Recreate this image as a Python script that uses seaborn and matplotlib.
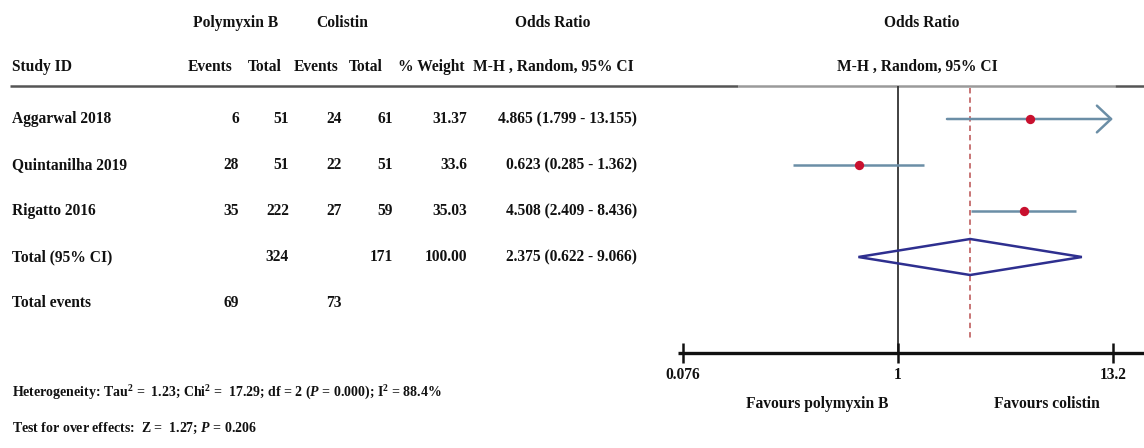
import numpy as np
import pandas as pd
import matplotlib
matplotlib.use("Agg")
import matplotlib.pyplot as plt
import seaborn as sns

# ---------------- data ----------------
studies = ["Aggarwal 2018", "Quintanilha 2019", "Rigatto 2016"]
pb_events = [6, 28, 35]
pb_total = [51, 51, 222]
col_events = [24, 22, 27]
col_total = [61, 51, 59]
weights = ["31.37", "33.6", "35.03"]
odds = [4.865, 0.623, 4.508]
ci_low = [1.799, 0.285, 2.409]
ci_high = [13.155, 1.362, 8.436]
arrow_right = [True, False, False]

total_pb = 324
total_col = 171
total_weight = "100.00"
pooled_or = 2.375
pooled_low = 0.622
pooled_high = 9.066
events_pb = 69
events_col = 73

axis_ticks = [0.076, 1, 13.2]
axis_ticklabels = ["0.076", "1", "13.2"]

heterogeneity = (r"Heterogeneity: Tau$^2$ =  1.23; Chi$^2$ =  17.29; df = 2 ($P$ = 0.000); "
                 r"I$^2$ = 88.4%")
overall_test = r"Test for over effects:  Z =  1.27; $P$ = 0.206"

# ---------------- style ----------------
sns.set_theme(style="white")
plt.rcParams["font.family"] = ["Liberation Serif", "DejaVu Serif"]
plt.rcParams["font.weight"] = "bold"
plt.rcParams["mathtext.fontset"] = "custom"
plt.rcParams["mathtext.rm"] = "Liberation Serif:bold"
plt.rcParams["mathtext.it"] = "Liberation Serif:italic:bold"
plt.rcParams["mathtext.bf"] = "Liberation Serif:bold"

W, H = 1144, 448
fig = plt.figure(figsize=(W / 100, H / 100), dpi=100)
fig.patch.set_facecolor("white")

ROW0, ROWSTEP = 119.0, 46.0


def row(px):
    return (px - ROW0) / ROWSTEP


ylim = (row(H), row(0))

# table axes (pixel x)
tab = fig.add_axes([0, 0, 1, 1])
tab.set_xlim(0, W)
tab.set_ylim(*ylim)
tab.axis("off")

# forest axes (log x)
fx0 = 660
ONE_PX = 898.0
k = 83.4
xl = np.exp(-(ONE_PX - fx0) / k)
xr = np.exp((W - ONE_PX) / k)


def xpx(px):
    return np.exp((px - ONE_PX) / k)


ax = fig.add_axes([fx0 / W, 0, (W - fx0) / W, 1])
ax.set_xscale("log")
ax.set_xlim(xl, xr)
ax.set_ylim(*ylim)
ax.axis("off")

FS = 11.2
txt = dict(fontsize=FS, fontweight="bold", color="#111111", va="center")
txt_small = dict(txt, fontsize=10.0)

# headers
tab.text(236, row(23), "Polymyxin B", ha="center", **txt)
tab.text(342, row(23), "Colistin", ha="center", **txt)
tab.text(553, row(23), "Odds Ratio", ha="center", **txt)
tab.text(12, row(67), "Study ID", ha="left", **txt)
col_x = {"pe": 239, "pt": 289, "ce": 342, "ct": 393, "w": 467, "or": 637}
tab.text(210, row(67), "Events", ha="center", **txt)
tab.text(265, row(67), "Total", ha="center", **txt)
tab.text(316, row(67), "Events", ha="center", **txt)
tab.text(366, row(67), "Total", ha="center", **txt)
tab.text(431, row(67), "% Weight", ha="center", **txt)
tab.text(553, row(67), "M-H , Random, 95% CI", ha="center", **txt)
ax.text(xpx(922), row(23), "Odds Ratio", ha="center", **txt)
ax.text(xpx(917), row(67), "M-H , Random, 95% CI", ha="center", **txt)

# header rule
tab.plot([10, 738], [row(86), row(86)], color="#555555", lw=1.8, solid_capstyle="butt")
tab.plot([738, 1115], [row(86), row(86)], color="#9a9a9a", lw=1.8, solid_capstyle="butt")
tab.plot([1115, W], [row(86), row(86)], color="#555555", lw=1.8, solid_capstyle="butt")

# study rows
for i, s in enumerate(studies):
    tab.text(12, i, s, ha="left", **txt)
    tab.text(col_x["pe"], i, str(pb_events[i]), ha="right", **txt)
    tab.text(col_x["pt"], i, str(pb_total[i]), ha="right", **txt)
    tab.text(col_x["ce"], i, str(col_events[i]), ha="right", **txt)
    tab.text(col_x["ct"], i, str(col_total[i]), ha="right", **txt)
    tab.text(col_x["w"], i, weights[i], ha="right", **txt)
    tab.text(col_x["or"], i, f"{odds[i]:.3f} ({ci_low[i]:.3f} - {ci_high[i]:.3f})", ha="right", **txt)

n = len(studies)
tab.text(12, n, "Total (95% CI)", ha="left", **txt)
tab.text(col_x["pt"], n, str(total_pb), ha="right", **txt)
tab.text(col_x["ct"], n, str(total_col), ha="right", **txt)
tab.text(col_x["w"], n, total_weight, ha="right", **txt)
tab.text(col_x["or"], n, f"{pooled_or:.3f} ({pooled_low:.3f} - {pooled_high:.3f})", ha="right", **txt)
tab.text(12, n + 1, "Total events", ha="left", **txt)
tab.text(col_x["pe"], n + 1, str(events_pb), ha="right", **txt)
tab.text(col_x["ce"], n + 1, str(events_col), ha="right", **txt)

tab.text(12, row(393), heterogeneity, ha="left", **txt_small)
tab.text(12, row(428), overall_test, ha="left", **txt_small)

# ---------------- forest ----------------
ci_col = "#6b8ea6"
pt_col = "#c8102e"
dia_col = "#2e2f8f"

ax.vlines(1, row(86), row(353), color="#333333", lw=1.3, zorder=1)
ax.vlines(pooled_or, row(88), row(338), color="#c46a6a", lw=1.3,
          linestyles=(0, (3, 2.2)), zorder=1)

for i in range(n):
    if arrow_right[i]:
        ax.annotate("", xy=(ci_high[i], i), xytext=(ci_low[i], i),
                    arrowprops=dict(arrowstyle="->,head_length=0.85,head_width=0.8",
                                    color=ci_col, lw=1.8, shrinkA=0, shrinkB=0),
                    zorder=2)
    else:
        ax.hlines(i, ci_low[i], ci_high[i], color=ci_col, lw=1.8, zorder=2)

df = pd.DataFrame({"odds": odds, "row": np.arange(n)})
sns.scatterplot(data=df, x="odds", y="row", ax=ax, color=pt_col, s=45,
                edgecolor=pt_col, linewidth=0, zorder=3, legend=False)
ax.set_xscale("log")
ax.set_xlim(xl, xr)
ax.set_ylim(*ylim)
ax.axis("off")

hh = 18 / ROWSTEP
ax.fill([pooled_low, pooled_or, pooled_high, pooled_or],
        [n, n - hh, n, n + hh], facecolor="none", edgecolor=dia_col, lw=1.8, zorder=2)

# bottom axis
ax_row = row(353)
ax.hlines(ax_row, xpx(678), xr, color="#111111", lw=2.4)
for t, lab in zip(axis_ticks, axis_ticklabels):
    ax.vlines(t, ax_row - 10 / ROWSTEP, ax_row + 10 / ROWSTEP, color="#111111", lw=1.8)
    ax.text(t, row(375), lab, ha="center", **txt)

ax.text(xpx(817), row(404), "Favours polymyxin B", ha="center", **txt)
ax.text(xpx(1047), row(404), "Favours colistin", ha="center", **txt)

fig.savefig("out.png", dpi=100, facecolor="white")
